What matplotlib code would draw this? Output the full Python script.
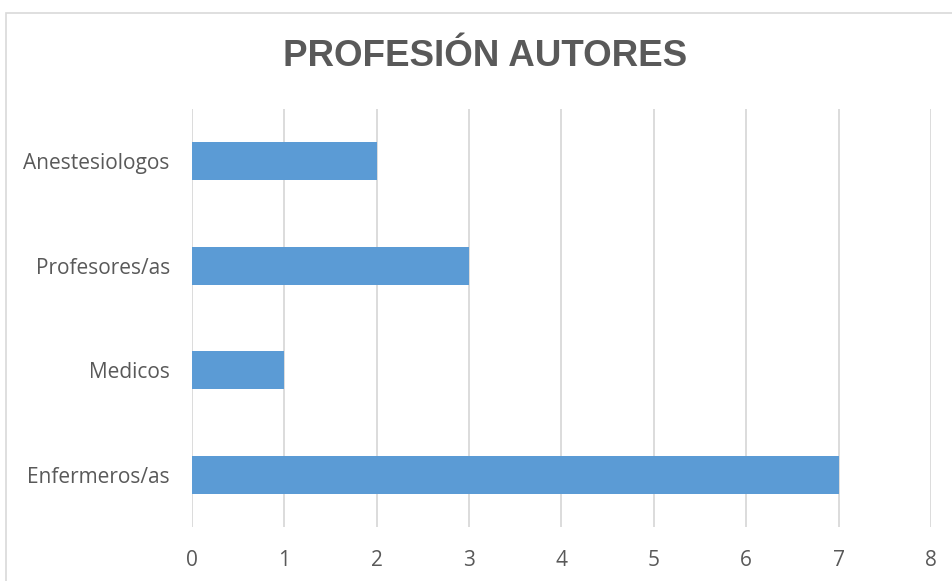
import matplotlib.pyplot as plt
from matplotlib.patches import Rectangle

categories = ["Enfermeros/as", "Medicos", "Profesores/as", "Anestesiologos"]
values = [7, 1, 3, 2]
xticks = [0, 1, 2, 3, 4, 5, 6, 7, 8]

W, H = 953, 581
fig = plt.figure(figsize=(W / 100, H / 100), dpi=100)
ax = fig.add_axes([192 / W, 1 - 527 / H, (931 - 192) / W, (527 - 109) / H])

ax.barh(range(len(categories)), values, height=0.36, color="#5B9BD5", zorder=3)
ax.set_xlim(0, 8)
ax.set_ylim(-0.5, len(categories) - 0.5)
ax.set_xticks(xticks)
ax.set_yticks(range(len(categories)))
ax.set_yticklabels(categories)
ax.grid(axis="x", color="#D9D9D9", linewidth=1.3, zorder=0)
for s in ax.spines.values():
    s.set_visible(False)
ax.tick_params(length=0, labelsize=15, labelcolor="#595959")
ax.tick_params(axis="x", pad=16.5)
ax.tick_params(axis="y", pad=16)
for lab in ax.get_xticklabels() + ax.get_yticklabels():
    lab.set_fontfamily("Open Sans")

fig.text(485 / W, 1 - 56 / H, "PROFESIÓN AUTORES", ha="center", va="center",
         fontsize=26.5, fontweight="bold", color="#595959", family="Liberation Sans")

fig.patches.append(Rectangle((6 / W, -0.1), 1.2, 1 - 13 / H + 0.1, transform=fig.transFigure,
                             fill=False, edgecolor="#D9D9D9", linewidth=1.2))

fig.savefig("out.png", dpi=100)
